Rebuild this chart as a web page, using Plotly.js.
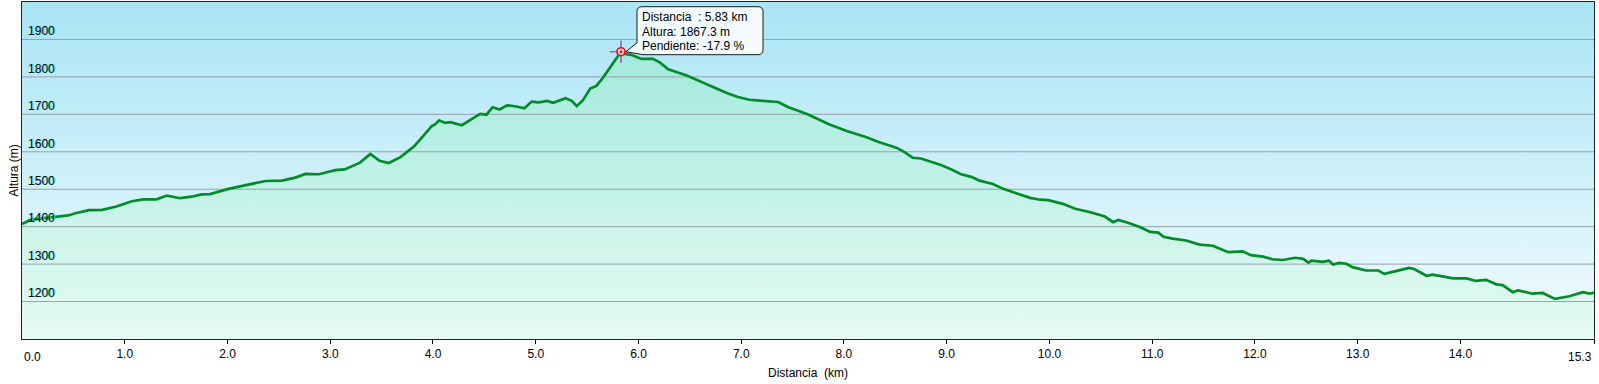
<!DOCTYPE html>
<html>
<head>
<meta charset="utf-8">
<script src="https://cdn.plot.ly/plotly-3.0.1.min.js"></script>
<style>html,body{margin:0;padding:0;background:#fff;}#chart{width:1599px;height:384px;}</style>
</head>
<body>
<div id="chart"></div>
<script>
// ---- data ----
const distanceKm = [
  0, 0.08, 0.26, 0.45, 0.52, 0.65, 0.78, 0.91, 1.07, 1.18,
  1.31, 1.41, 1.54, 1.65, 1.75, 1.83, 2.01, 2.27, 2.37, 2.53,
  2.66, 2.76, 2.89, 3.05, 3.14, 3.29, 3.39, 3.48, 3.57, 3.68,
  3.81, 3.87, 3.99, 4.02, 4.06, 4.12, 4.17, 4.28, 4.39, 4.46,
  4.52, 4.58, 4.65, 4.72, 4.81, 4.89, 4.96, 5.03, 5.11, 5.17,
  5.29, 5.35, 5.40, 5.46, 5.53, 5.59, 5.65, 5.83, 5.87, 5.93,
  6.03, 6.14, 6.21, 6.29, 6.47, 6.70, 6.86, 6.96, 7.08, 7.21,
  7.36, 7.46, 7.64, 7.86, 8.02, 8.22, 8.33, 8.51, 8.59, 8.67,
  8.75, 8.95, 9.03, 9.14, 9.24, 9.32, 9.45, 9.55, 9.68, 9.81,
  9.91, 9.99, 10.13, 10.25, 10.39, 10.54, 10.62, 10.67, 10.78, 10.89,
  10.98, 11.06, 11.11, 11.20, 11.33, 11.46, 11.59, 11.74, 11.88, 11.96,
  12.08, 12.17, 12.27, 12.39, 12.47, 12.52, 12.55, 12.66, 12.72, 12.76,
  12.82, 12.89, 12.95, 13.08, 13.20, 13.26, 13.38, 13.50, 13.55, 13.67,
  13.73, 13.83, 13.93, 14.06, 14.15, 14.25, 14.35, 14.41, 14.51, 14.56,
  14.70, 14.80, 14.92, 15.06, 15.19, 15.26, 15.30
];
const altitudeM = [
  1407, 1418, 1424, 1430, 1436, 1444, 1445, 1453, 1468, 1473,
  1473, 1483, 1476, 1480, 1486, 1487, 1501, 1517, 1522, 1523,
  1531, 1541, 1540, 1551, 1553, 1571, 1594, 1576, 1570, 1585,
  1613, 1631, 1669, 1673, 1684, 1677, 1679, 1671, 1690, 1701,
  1699, 1719, 1713, 1724, 1721, 1716, 1734, 1732, 1736, 1731,
  1743, 1736, 1722, 1738, 1769, 1776, 1796, 1867.3, 1861, 1859,
  1848, 1848, 1838, 1820, 1804, 1775, 1757, 1747, 1739, 1736,
  1733, 1719, 1701, 1673, 1656, 1639, 1627, 1611, 1599, 1584,
  1582, 1564, 1555, 1540, 1533, 1523, 1514, 1501, 1489, 1477,
  1472, 1471, 1461, 1448, 1439, 1427, 1412, 1418, 1409, 1398,
  1386, 1384, 1373, 1368, 1363, 1352, 1349, 1332, 1334, 1324,
  1320, 1313, 1311, 1317, 1314, 1304, 1309, 1306, 1309, 1299,
  1303, 1301, 1292, 1283, 1283, 1274, 1282, 1290, 1287, 1269,
  1272, 1266, 1262, 1262, 1255, 1258, 1246, 1244, 1225, 1230,
  1221, 1223, 1207, 1214, 1225, 1221, 1224
];
const xTickVals = [0, 1, 2, 3, 4, 5, 6, 7, 8, 9, 10, 11, 12, 13, 14, 15.3];
const xTickText = ['0.0','1.0','2.0','3.0','4.0','5.0','6.0','7.0','8.0','9.0','10.0','11.0','12.0','13.0','14.0','15.3'];
const yTickVals = [1200, 1300, 1400, 1500, 1600, 1700, 1800, 1900];
const yTickText = ['1200','1300','1400','1500','1600','1700','1800','1900'];
const cursorPoint = {km: 5.83, alt: 1867.3};
const cursorLabels = ['Distancia  : 5.83 km', 'Altura: 1867.3 m', 'Pendiente: -17.9 %'];
const xTitle = 'Distancia  (km)';
const yTitle = 'Altura (m)';

// ---- style ----
const X_RANGE = [0, 15.3];
const Y_RANGE = [1100, 2000];
const FONT = 'Liberation Sans, Arial, sans-serif';

// gridlines as a trace so they sit above the fills
const gx = [], gy = [];
yTickVals.forEach(v => { gx.push(X_RANGE[0], X_RANGE[1], null); gy.push(v, v, null); });

const traces = [
  { // plot background gradient
    x: X_RANGE, y: [Y_RANGE[1], Y_RANGE[1]], mode: 'lines', line: {width: 0},
    fill: 'tozeroy',
    fillgradient: {type: 'vertical', start: Y_RANGE[0], stop: Y_RANGE[1],
      colorscale: [[0, '#f2fbfe'], [1, '#a9e4f5']]},
    hoverinfo: 'skip', showlegend: false
  },
  { // area under profile
    x: distanceKm, y: altitudeM, mode: 'lines', line: {width: 0},
    fill: 'tozeroy',
    fillgradient: {type: 'vertical', start: Y_RANGE[0], stop: Y_RANGE[1],
      colorscale: [[0, '#e6fbf2'], [1, '#98e6da']]},
    hoverinfo: 'skip', showlegend: false
  },
  { // gridlines
    x: gx, y: gy, mode: 'lines', line: {color: '#95a3a8', width: 1},
    hoverinfo: 'skip', showlegend: false
  },
  { // profile line
    x: distanceKm, y: altitudeM, mode: 'lines',
    line: {color: '#008c28', width: 2.7},
    showlegend: false
  },
  { x: [cursorPoint.km], y: [cursorPoint.alt], mode: 'markers',
    marker: {symbol: 'cross-thin-open', size: 16, line: {color: '#ff0000', width: 1.6}},
    hoverinfo: 'skip', showlegend: false },
  { x: [cursorPoint.km], y: [cursorPoint.alt], mode: 'markers',
    marker: {symbol: 'circle-dot', size: 8, color: 'rgba(255,255,255,0.6)', line: {color: '#ff0000', width: 1.6}},
    hoverinfo: 'skip', showlegend: false }
];

// speech-bubble tooltip (pixel offsets relative to the cursor point, y up)
const B = {l: 16, r: 142, b: -3, t: 45, rad: 5, tipX: 5, tipY: 0, notchTop: 9};
const bubblePath =
  `M ${B.l + B.rad},${B.t} L ${B.r - B.rad},${B.t} Q ${B.r},${B.t} ${B.r},${B.t - B.rad} ` +
  `L ${B.r},${B.b + B.rad} Q ${B.r},${B.b} ${B.r - B.rad},${B.b} ` +
  `L ${B.l + 6},${B.b} L ${B.tipX},${B.tipY} L ${B.l},${B.notchTop} ` +
  `L ${B.l},${B.t - B.rad} Q ${B.l},${B.t} ${B.l + B.rad},${B.t} Z`;

const lineOffsets = [35, 20, 6];
const tooltipAnnotations = cursorLabels.map((t, i) => ({
  x: cursorPoint.km, y: cursorPoint.alt, xref: 'x', yref: 'y',
  xanchor: 'left', yanchor: 'middle', xshift: 19, yshift: lineOffsets[i],
  text: t, showarrow: false, font: {family: FONT, size: 12, color: '#000'}
}));

const layout = {
  width: 1599, height: 384,
  margin: {l: 22, r: 5, t: 2, b: 45, pad: 0},
  paper_bgcolor: '#ffffff', plot_bgcolor: '#ffffff',
  font: {family: FONT, size: 12, color: '#000'},
  showlegend: false,
  xaxis: {
    range: X_RANGE, autorange: false, fixedrange: true,
    tickmode: 'array', tickvals: xTickVals,
    ticktext: xTickText.map((t, i) => (i === 0 || i === xTickText.length - 1) ? '' : t),
    ticks: 'outside', ticklen: 4, tickcolor: '#000', tickwidth: 1,
    showgrid: false, zeroline: false,
    showline: true, linecolor: '#222', linewidth: 1, mirror: true,
    tickfont: {family: FONT, size: 12, color: '#000'},
    title: {text: xTitle, font: {family: FONT, size: 12, color: '#000'}, standoff: 8},
    automargin: false
  },
  yaxis: {
    range: Y_RANGE, autorange: false, fixedrange: true,
    tickmode: 'array', tickvals: yTickVals, ticktext: yTickText,
    ticks: '', ticklabelposition: 'inside top', ticklabelstandoff: 5,
    showgrid: false, zeroline: false,
    showline: true, linecolor: '#222', linewidth: 1, mirror: true,
    tickfont: {family: FONT, size: 12, color: '#000', shadow: '1px 0px 0px #4fe3f2'},
    title: {text: yTitle, font: {family: FONT, size: 12, color: '#000'}, standoff: 6},
    automargin: false
  },
  shapes: [
    {type: 'path', layer: 'above', xref: 'x', yref: 'y',
     xsizemode: 'pixel', ysizemode: 'pixel',
     xanchor: cursorPoint.km, yanchor: cursorPoint.alt,
     path: bubblePath, fillcolor: '#f3fbfe', line: {color: '#1a1a1a', width: 1}}
  ],
  annotations: [
    {x: xTickVals[0], y: 0, xref: 'x', yref: 'paper', yanchor: 'top', xanchor: 'left',
     yshift: -9, text: xTickText[0], showarrow: false, font: {family: FONT, size: 12, color: '#000'}},
    {x: xTickVals[xTickVals.length - 1], y: 0, xref: 'x', yref: 'paper', yanchor: 'top', xanchor: 'right',
     yshift: -9, text: xTickText[xTickText.length - 1], showarrow: false, font: {family: FONT, size: 12, color: '#000'}}
  ].concat(tooltipAnnotations)
};

Plotly.newPlot('chart', traces, layout, {displayModeBar: false, staticPlot: true});
</script>
</body>
</html>
